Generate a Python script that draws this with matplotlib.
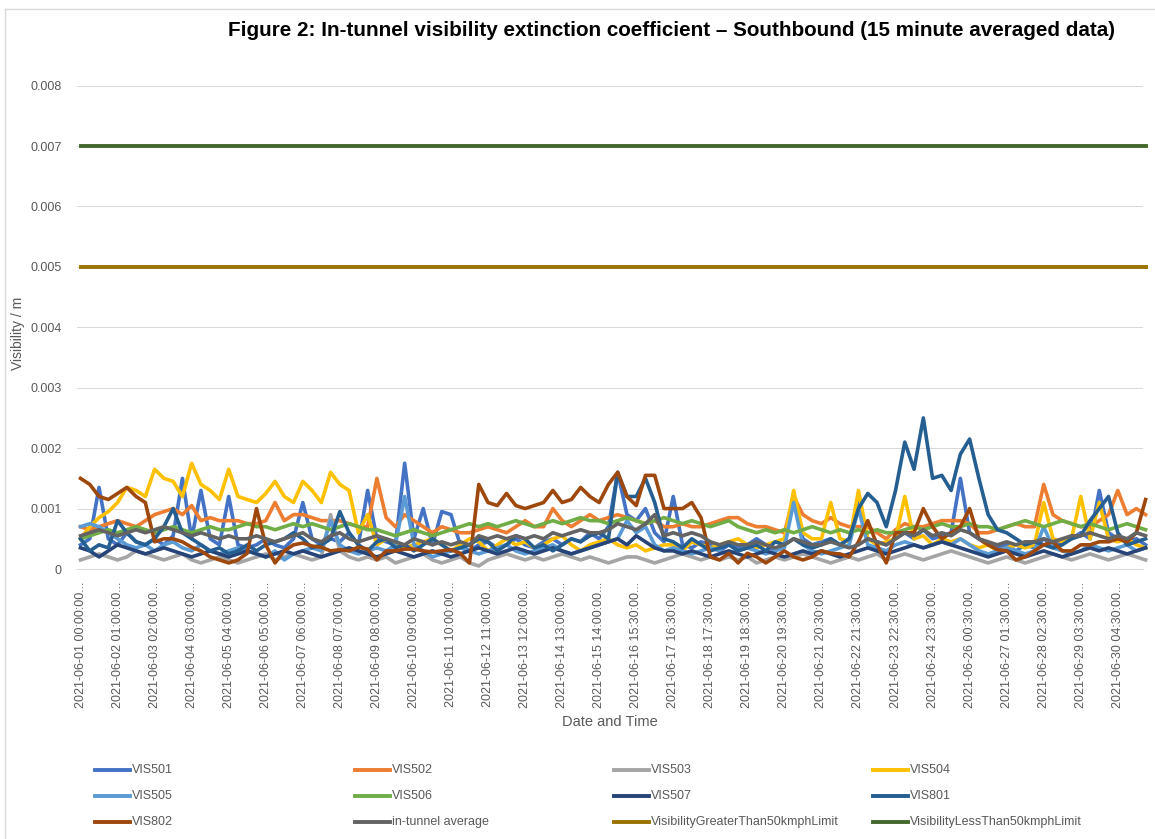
import numpy as np
import matplotlib.pyplot as plt
from matplotlib import font_manager
from matplotlib.lines import Line2D

plt.rcParams['font.family'] = ['Liberation Sans', 'DejaVu Sans']

# values every 25 records (units of 1e-4 /m)
STEP = 25

vis501 = [4, 5, 13.5, 5, 4, 6, 4.5, 4,
          5, 4, 5.5, 15, 5, 13, 5, 4,
          12, 4, 3.5, 4, 5, 4, 3.5, 5,
          11, 5, 4, 5, 4.5, 6, 4, 13,
          5, 4.5, 4, 17.5, 5, 10, 4, 9.5,
          9, 4, 3, 4, 4.5, 3.5, 4, 5,
          4, 3.5, 4.5, 5, 4, 5, 4.5, 6,
          5, 7, 16, 9, 8, 10, 6, 4.5,
          12, 4, 3.5, 4.5, 4, 3, 4, 3.5,
          4, 5, 4, 3, 4, 12, 5, 4,
          4.5, 5, 4, 5, 11, 5, 4.5, 4,
          5, 6, 5, 6.5, 5, 5.5, 6, 15,
          6, 5, 4, 3.5, 4, 3, 4, 3.5,
          5, 4, 4.5, 5, 6, 5, 13, 6,
          5, 4.5, 5, 4]

vis502 = [7, 6.5, 7, 7.5, 8, 7.5, 7, 8,
          9, 9.5, 10, 9, 10.5, 8, 8.5, 8,
          8, 8, 7.5, 7.5, 8, 11, 8, 9,
          9, 8.5, 8, 8, 8, 7.5, 7, 7,
          15, 8.5, 7, 9, 8, 7, 6, 7,
          6.5, 6, 6, 6.5, 7, 6.5, 6, 7,
          8, 7, 7, 10, 8, 7, 8, 9,
          8, 8.5, 9, 8.5, 8, 7.5, 8, 7,
          7, 7.5, 7, 7, 7.5, 8, 8.5, 8.5,
          7.5, 7, 7, 6.5, 6, 12, 9, 8,
          7.5, 8.5, 7.5, 7, 7, 7, 6, 5,
          6.5, 7.5, 7, 7, 7.5, 8, 8, 8,
          7.5, 6, 6, 6.5, 7, 7.5, 7, 7,
          14, 9, 8, 7.5, 7, 7, 8, 9,
          13, 9, 10, 9]

vis503 = [1.5, 2, 2.5, 2, 1.5, 2, 3, 2.5,
          2, 1.5, 2, 2.5, 1.5, 1, 1.5, 2,
          1.5, 1, 1.5, 2, 2.5, 1.5, 2, 2.5,
          2, 1.5, 2, 9, 3, 2, 1.5, 2,
          1.5, 2, 1, 1.5, 2, 2.5, 1.5, 1,
          1.5, 2, 1, 0.5, 1.5, 2, 2.5, 2,
          1.5, 2, 1.5, 2, 2.5, 2, 1.5, 2,
          1.5, 1, 1.5, 2, 2, 1.5, 1, 1.5,
          2, 2.5, 2, 1.5, 2, 1.5, 2, 1.5,
          2, 1, 1.5, 2, 1.5, 2, 2.5, 2,
          1.5, 1, 1.5, 2, 1.5, 2, 2.5, 1.5,
          2, 2.5, 2, 1.5, 2, 2.5, 3, 2.5,
          2, 1.5, 1, 1.5, 2, 1.5, 1, 1.5,
          2, 2.5, 2, 1.5, 2, 2.5, 2, 1.5,
          2, 2.5, 2, 1.5]

vis504 = [5, 7, 8.5, 9.5, 11, 13.5, 13, 12,
          16.5, 15, 14.5, 12, 17.5, 14, 13, 11.5,
          16.5, 12, 11.5, 11, 12.5, 14.5, 12, 11,
          14.5, 13, 11, 16, 14, 13, 6, 9,
          4, 5, 4, 3.5, 4, 4.5, 5, 4,
          3, 4, 5, 4.5, 3, 4, 5, 4,
          4.5, 3.5, 4, 5, 5.5, 4, 3, 4,
          4.5, 5, 4, 3.5, 4, 3, 3.5, 4,
          4, 3, 4.5, 4, 3.5, 4, 4.5, 5,
          4, 3.5, 4, 4.5, 5, 13, 6, 5,
          5, 11, 5, 4.5, 13, 5, 4, 4.5,
          5, 12, 5, 5.5, 4, 5, 4.5, 5,
          4, 3.5, 4, 3, 3.5, 4, 3.5, 4,
          11, 5, 4.5, 5, 12, 5, 11, 5,
          4.5, 5, 4, 3.5]

vis505 = [7, 7.5, 7, 6, 5, 4, 3.5, 4,
          3, 4, 4.5, 3.5, 3, 4, 3, 2.5,
          3, 3.5, 3, 2.5, 2, 3, 1.5, 2.5,
          3, 3.5, 3, 8, 4, 3, 2.5, 3,
          3.5, 3, 4, 12, 4, 3, 2, 2.5,
          3, 3.5, 3, 2.5, 3, 3.5, 4, 3,
          2.5, 3, 3.5, 4, 3, 2.5, 3, 3.5,
          4, 4.5, 5, 8, 6, 7, 4, 3,
          3.5, 3, 2.5, 3, 3.5, 3, 2.5, 3,
          3.5, 3, 2.5, 3, 3.5, 11, 4, 3,
          2.5, 3, 3.5, 4, 10, 4, 3.5, 3,
          4, 4.5, 4, 3.5, 4, 4.5, 4, 5,
          4, 3, 2.5, 3, 3.5, 3, 2.5, 3,
          7, 3.5, 3, 2.5, 3, 4, 3.5, 3,
          3.5, 4, 3, 3.5]

vis506 = [5, 5.5, 6, 6.5, 6, 6.5, 7, 6.5,
          6, 6.5, 7, 6.5, 6, 6.5, 7, 6.5,
          6.5, 7, 7.5, 7, 7, 6.5, 7, 7.5,
          7, 7.5, 7, 6.5, 7, 7.5, 7, 6.5,
          6.5, 6, 5.5, 6, 6.5, 6, 5.5, 6,
          6.5, 7, 7.5, 7, 7.5, 7, 7.5, 8,
          7.5, 7, 7.5, 8, 7.5, 8, 8.5, 8,
          8, 7.5, 8, 8.5, 8, 7.5, 8, 8.5,
          8, 7.5, 8, 7.5, 7, 7.5, 8, 7,
          6.5, 6, 6.5, 6, 6.5, 6, 6.5, 7,
          6.5, 6, 6.5, 6, 6.5, 6, 6.5, 6,
          6, 6.5, 7, 6.5, 7, 7.5, 7, 7,
          7.5, 7, 7, 6.5, 7, 7.5, 8, 7.5,
          7, 7.5, 8, 7.5, 7, 7.5, 7, 6.5,
          7, 7.5, 7, 6.5]

vis507 = [3.5, 3, 2, 3, 4, 3.5, 3, 2.5,
          3, 3.5, 3, 2.5, 2, 2.5, 3, 2.5,
          2, 2.5, 3, 2.5, 2, 2.5, 3, 2.5,
          3, 2.5, 2, 2.5, 3, 3.5, 3, 2.5,
          2, 2.5, 3, 2.5, 2, 2.5, 3, 2.5,
          2, 2.5, 3, 3.5, 3, 2.5, 3, 3.5,
          3, 2.5, 3, 3.5, 3, 2.5, 3, 3.5,
          4, 4.5, 5, 4, 5.5, 4.5, 3.5, 3,
          3, 2.5, 3, 2.5, 2, 2.5, 3, 2.5,
          2, 2.5, 3, 2.5, 2, 2.5, 3, 2.5,
          3, 2.5, 2, 2.5, 3, 3.5, 3, 2.5,
          3, 3.5, 4, 3.5, 4, 4.5, 4, 3.5,
          3, 2.5, 2, 2.5, 3, 2.5, 2, 2.5,
          3, 2.5, 2, 2.5, 3, 3.5, 3, 3.5,
          3, 2.5, 3, 3.5]

vis801 = [5, 3, 4, 3.5, 8, 6, 4.5, 4,
          5, 7, 10, 6, 5, 4, 3, 3.5,
          2.5, 3, 4, 3, 4, 4.5, 5, 6,
          5, 3.5, 4, 5, 9.5, 6, 4, 3,
          4.5, 5, 3.5, 4, 3, 4, 5, 4,
          3, 3.5, 4, 5, 4.5, 3, 4, 5.5,
          5, 3.5, 4, 3, 4, 5, 4.5, 5.5,
          6, 5, 16, 12, 12, 15, 11, 5,
          4.5, 3.5, 5, 4, 3, 3.5, 4, 3,
          3.5, 4, 3, 4.5, 4, 5, 4, 3.5,
          4, 5, 4, 5, 10, 12.5, 11, 7,
          13, 21, 16.5, 25, 15, 15.5, 13, 19,
          21.5, 15, 9, 6.5, 6, 5, 4, 4.5,
          4, 3.5, 4, 5, 5.5, 8, 10, 12,
          6, 4, 4.5, 5]

vis802 = [15, 14, 12, 11.5, 12.5, 13.5, 12, 11,
          4.5, 5, 5, 4.5, 3.6, 3, 2, 1.5,
          1, 1.5, 2.6, 10, 4, 1, 3, 4,
          4.3, 3.8, 3.6, 3, 3.2, 3, 3.6, 3.3,
          1.5, 3, 3, 3.3, 3.3, 3, 2.8, 3,
          3.2, 2.6, 1, 14, 11, 10.5, 12.5, 10.5,
          10, 10.5, 11, 13, 11, 11.5, 13.5, 12,
          11, 14, 16, 12, 10.5, 15.5, 15.5, 10,
          10, 10, 11, 8.5, 2, 1.5, 2.6, 1,
          2.6, 2, 1, 2, 3, 2, 1.5, 2,
          3, 2.6, 2.5, 2, 4.5, 8, 4, 1,
          6, 6, 6, 10, 7, 5, 6, 7,
          10, 5, 4, 3.2, 3, 1.5, 2, 3,
          4, 4.5, 3, 3, 4, 4, 4.5, 4.5,
          5, 4.5, 6, 11.5]

tunnel_avg = [5.5, 6, 6.5, 6, 5.5, 6, 6.5, 6,
              6.5, 7, 6.5, 6, 5.5, 6, 5.5, 5,
              5.5, 5, 5, 5.5, 5, 4.5, 5, 5.5,
              6, 5, 4.5, 5.5, 6, 5, 4.5, 5,
              5.5, 5, 4.5, 4, 5, 4.5, 4, 4.5,
              4, 4.5, 4, 5.5, 5, 5.5, 5, 5.5,
              5, 5.5, 5, 6, 5.5, 6, 6.5, 6,
              6, 6.5, 7.5, 7, 6.5, 7.5, 9, 5.5,
              6, 5.5, 6, 5.5, 4.5, 4, 4.5, 4,
              4, 4.5, 4, 3.5, 4, 5, 4.5, 4,
              4, 4.5, 4, 3.5, 4, 5, 4.5, 4,
              5, 6, 5.5, 6.5, 5.5, 6, 5.5, 6.5,
              6, 5, 4.5, 4, 4.5, 4, 4.5, 4.5,
              5, 4.5, 5, 5.5, 5.5, 6, 5.5, 5,
              5.5, 5, 6, 5.5]

limit_gt50 = 0.005
limit_lt50 = 0.007

tick_labels = ["2021-06-01 00:00:00", "2021-06-02 01:00:00", "2021-06-03 02:00:00",
               "2021-06-04 03:00:00", "2021-06-05 04:00:00", "2021-06-06 05:00:00",
               "2021-06-07 06:00:00", "2021-06-08 07:00:00", "2021-06-09 08:00:00",
               "2021-06-10 09:00:00", "2021-06-11 10:00:00", "2021-06-12 11:00:00",
               "2021-06-13 12:00:00", "2021-06-14 13:00:00", "2021-06-15 14:00:00",
               "2021-06-16 15:30:00", "2021-06-17 16:30:00", "2021-06-18 17:30:00",
               "2021-06-19 18:30:00", "2021-06-20 19:30:00", "2021-06-21 20:30:00",
               "2021-06-22 21:30:00", "2021-06-23 22:30:00", "2021-06-24 23:30:00",
               "2021-06-26 00:30:00", "2021-06-27 01:30:00", "2021-06-28 02:30:00",
               "2021-06-29 03:30:00", "2021-06-30 04:30:00"]

series = [("VIS501", vis501, "#4472C4"),
          ("VIS502", vis502, "#ED7D31"),
          ("VIS503", vis503, "#A5A5A5"),
          ("VIS504", vis504, "#FFC000"),
          ("VIS505", vis505, "#5B9BD5"),
          ("VIS506", vis506, "#70AD47"),
          ("VIS507", vis507, "#264478"),
          ("VIS801", vis801, "#255E91"),
          ("VIS802", vis802, "#9E480E"),
          ("in-tunnel average", tunnel_avg, "#636363")]
limits = [("VisibilityGreaterThan50kmphLimit", limit_gt50, "#997300"),
          ("VisibilityLessThan50kmphLimit", limit_lt50, "#43682B")]

W, H = 1155, 839
grey = "#595959"

fig = plt.figure(figsize=(W / 100, H / 100), dpi=100)
ax = fig.add_axes([77 / W, 1 - 569 / H, (1143 - 77) / W, (569 - 85) / H])

for name, vals, color in series:
    y = np.array(vals) * 1e-4
    x = np.arange(len(y)) * STEP
    ax.plot(x, y, color=color, lw=2.6, solid_joinstyle='round', clip_on=False)

x_all = np.arange(len(vis501)) * STEP
for name, val, color in limits:
    ax.plot(x_all, np.full(len(x_all), val), color=color, lw=2.8, clip_on=False)

ax.set_xlim(-9.5, 2868)
ax.set_ylim(0, 0.00801)
yt = np.arange(0, 9) * 0.001
ax.set_yticks(yt)
ax.set_yticklabels(['0'] + ['%.3f' % v for v in yt[1:]])
ax.set_xticks(np.arange(len(tick_labels)) * 100)
ax.set_xticklabels([t + '...' for t in tick_labels], rotation=90)
ax.grid(axis='y', color='#D9D9D9', lw=0.75)
ax.set_axisbelow(True)
for s in ['top', 'right', 'left']:
    ax.spines[s].set_visible(False)
ax.spines['bottom'].set_color('#D9D9D9')
ax.spines['bottom'].set_linewidth(0.75)
ax.tick_params(length=0, colors=grey, labelsize=9)
ax.tick_params(axis='y', pad=11)
ax.tick_params(axis='x', pad=9)

fig.text(18 / W, 1 - 333 / H, 'Visibility / m', rotation=90, ha='center',
         va='center', fontsize=10, color=grey)
fig.text(610 / W, 1 - 722 / H, 'Date and Time', ha='center', va='center',
         fontsize=10.5, color=grey)

# legend laid out like the Excel one: 4 columns, 3 rows
entries = [(n, c) for n, v, c in series] + [(n, c) for n, v, c in limits]
col_x = [95, 355, 614, 873]
row_y = [770, 796, 822]
for i, (name, color) in enumerate(entries):
    cx = col_x[i % 4]
    cy = row_y[i // 4]
    fig.add_artist(Line2D([cx / W, (cx + 35) / W], [1 - cy / H, 1 - cy / H],
                          transform=fig.transFigure, color=color, lw=2.8))
    fig.text((cx + 37) / W, 1 - cy / H, name, ha='left', va='center',
             fontsize=9, color=grey)

# chart area border
fig.add_artist(Line2D([5 / W, 5 / W], [0, 1 - 9 / H], transform=fig.transFigure,
                      color='#D9D9D9', lw=1))
fig.add_artist(Line2D([5 / W, 1], [1 - 9 / H, 1 - 9 / H], transform=fig.transFigure,
                      color='#D9D9D9', lw=1))

names = {f.name for f in font_manager.fontManager.ttflist}
narrow = 'Liberation Sans Narrow' if 'Liberation Sans Narrow' in names else 'Liberation Sans'
title = fig.text(672 / W, 1 - 31 / H,
                 'Figure 2: In-tunnel visibility extinction coefficient \u2013 Southbound (15 minute averaged data)',
                 ha='center', va='center', fontsize=16, fontweight='bold',
                 family=[narrow, 'DejaVu Sans'])
fig.canvas.draw()
w = title.get_window_extent().width
title.set_fontsize(16 * 885 / w)

fig.savefig('out.png', dpi=100)
